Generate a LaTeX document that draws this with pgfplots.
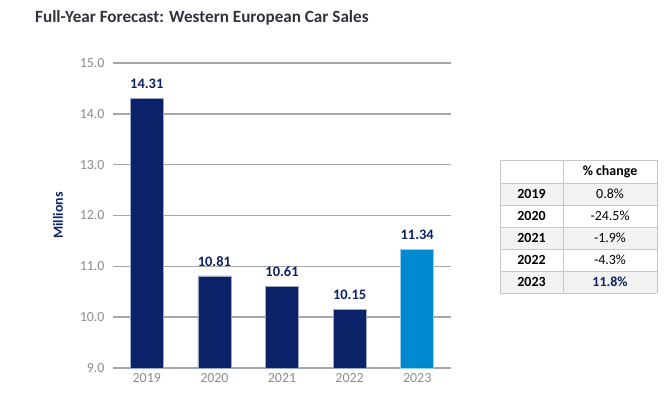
\documentclass[border=0pt]{standalone}
\usepackage{fontspec}
\setmainfont{Carlito}
\usepackage{pgfplots}
\pgfplotsset{compat=1.18}
\definecolor{navy}{RGB}{12,34,104}
\definecolor{lblue}{RGB}{0,137,208}
\definecolor{tickgray}{RGB}{140,140,140}
\definecolor{gridgray}{RGB}{166,166,166}
\definecolor{titlegray}{RGB}{50,50,62}
\definecolor{tblborder}{RGB}{200,200,200}
\definecolor{rowgray}{RGB}{242,242,242}
\begin{document}
\begin{tikzpicture}[x=1bp,y=1bp]
\path[use as bounding box] (0,0) rectangle (671,397);
\node[anchor=base west, font=\fontsize{17.2}{20}\selectfont\bfseries, text=titlegray, inner sep=0] at (35,375) {Full-Year Forecast: Western European Car Sales};
\begin{axis}[
  at={(113bp,29bp)}, anchor=south west,
  scale only axis, width=338bp, height=305bp,
  ymin=9, ymax=15, xmin=-0.5, xmax=4.5,
  ytick={9,10,...,15},
  xtick={0,1,2,3,4},
  xticklabels={2019,2020,2021,2022,2023},
  /pgf/number format/assume math mode=true,
  yticklabel style={xshift=-5bp, /pgf/number format/.cd, fixed, fixed zerofill, precision=1},
  tick label style={font=\fontsize{14}{16}\selectfont, text=tickgray},
  xticklabel style={yshift=-2bp},
  axis line style={draw=none},
  major tick length=0pt,
  ymajorgrids,
  grid style={draw=gridgray, line width=1.4bp},
  ylabel={Millions},
  every axis y label/.style={at={(axis description cs:0,0.5)}, xshift=-55bp, rotate=90, anchor=center, font=\fontsize{14}{16}\selectfont\bfseries, text=navy},
  bar width=0.49,
  nodes near coords,
  point meta=y,
  every node near coord/.append style={font=\fontsize{14.5}{16}\selectfont\bfseries, text=navy, yshift=6bp, /pgf/number format/.cd, fixed, fixed zerofill, precision=2},
  clip=false,
]
\addplot[ybar, bar shift=0pt, fill=navy, draw=navy!40!white, line width=0.6bp] coordinates {(0,14.31) (1,10.81) (2,10.61) (3,10.15)};
\addplot[ybar, bar shift=0pt, fill=lblue, draw=lblue!40!white, line width=0.6bp] coordinates {(4,11.34)};
\end{axis}
% table
\def\xa{500}\def\xb{563}\def\xc{657}
\foreach \t/\b/\f in {160/183/white,183/205/rowgray,205/227/white,227/249/rowgray,249/271/white,271/293/rowgray}{
  \fill[\f] (\xa,397-\t) rectangle (\xc,397-\b);
}
\foreach \yy in {160,183,205,227,249,271,293}{
  \draw[tblborder, line width=1bp] (\xa,397-\yy) -- (\xc,397-\yy);
}
\draw[tblborder, line width=1bp] (\xa,397-160) -- (\xa,397-293);
\draw[tblborder, line width=1bp] (\xb,397-160) -- (\xb,397-293);
\draw[tblborder, line width=1bp] (\xc,397-160) -- (\xc,397-293);
\tikzset{tt/.style={font=\fontsize{14}{16}\selectfont, inner sep=0, anchor=center}}
\node[tt, font=\fontsize{14}{16}\selectfont\bfseries] at (610,397-171.5) {\% change};
\foreach \yr/\v/\c in {2019/0.8\%/194,2020/-24.5\%/216,2021/-1.9\%/238,2022/-4.3\%/260}{
  \node[tt, font=\fontsize{14}{16}\selectfont\bfseries] at (531.5,397-\c) {\yr};
  \node[tt] at (610,397-\c) {\v};
}
\node[tt, font=\fontsize{14}{16}\selectfont\bfseries] at (531.5,397-282) {2023};
\node[tt, font=\fontsize{14}{16}\selectfont\bfseries, text=navy] at (610,397-282) {11.8\%};
\end{tikzpicture}
\end{document}
